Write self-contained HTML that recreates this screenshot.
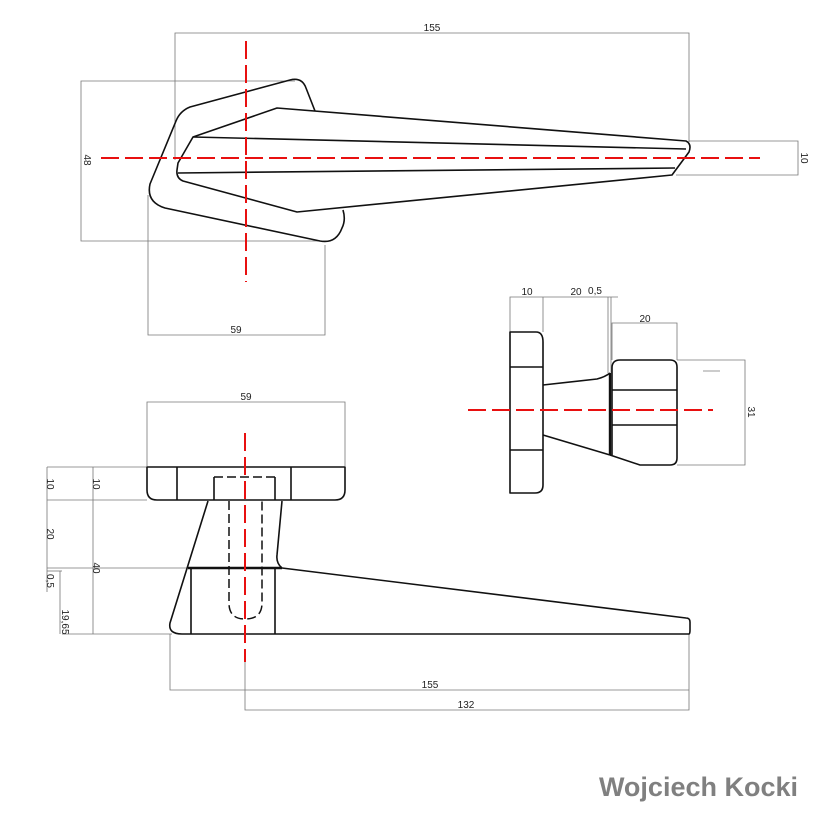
<!DOCTYPE html>
<html><head><meta charset="utf-8"><style>
html,body{margin:0;padding:0;background:#fff;}
svg{display:block;}
text{font-family:"Liberation Sans",Arial,sans-serif;font-size:10px;fill:#222;}
</style></head><body>
<svg width="818" height="818" viewBox="0 0 818 818" xmlns="http://www.w3.org/2000/svg">
<g fill="none" stroke="#777" stroke-width="0.8">
<polyline points="175,160 175,33 689,33 689,142"/>
<polyline points="295,81 81,81 81,241 326,241"/>
<polyline points="148,195 148,335 325,335 325,245"/>
<polyline points="689,141 798,141 798,175 676,175"/>
<polyline points="147,466 147,402 345,402 345,466"/>
<line x1="47" y1="467" x2="147" y2="467"/>
<line x1="47" y1="500" x2="147" y2="500"/>
<line x1="47" y1="568" x2="188" y2="568"/>
<line x1="47" y1="571" x2="62" y2="571"/>
<line x1="62" y1="634" x2="172" y2="634"/>
<line x1="47" y1="467" x2="47" y2="592"/>
<line x1="93" y1="467" x2="93" y2="634"/>
<line x1="60" y1="571" x2="60" y2="634"/>
<polyline points="170,634 170,690 689,690"/>
<polyline points="245,662 245,710 689,710 689,634"/>
<polyline points="510,332 510,297 618,297"/>
<line x1="543" y1="297" x2="543" y2="332"/>
<line x1="608" y1="297" x2="608" y2="373"/>
<line x1="611" y1="297" x2="611" y2="373"/>
<polyline points="612,360 612,323 677,323 677,360"/>
<polyline points="677,360 745,360 745,465 677,465"/>
<line x1="703" y1="371" x2="720" y2="371"/>
</g>
<g fill="#222">
<text x="432" y="31" text-anchor="middle">155</text>
<text transform="translate(84,160) rotate(90)" text-anchor="middle">48</text>
<text x="236" y="333" text-anchor="middle">59</text>
<text transform="translate(801,158) rotate(90)" text-anchor="middle">10</text>
<text x="246" y="400" text-anchor="middle">59</text>
<text transform="translate(47,484) rotate(90)" text-anchor="middle">10</text>
<text transform="translate(93,484) rotate(90)" text-anchor="middle">10</text>
<text transform="translate(47,534) rotate(90)" text-anchor="middle">20</text>
<text transform="translate(93,568) rotate(90)" text-anchor="middle">40</text>
<text transform="translate(47,581) rotate(90)" text-anchor="middle">0,5</text>
<text transform="translate(62,622) rotate(90)" text-anchor="middle">19,65</text>
<text x="430" y="688" text-anchor="middle">155</text>
<text x="466" y="708" text-anchor="middle">132</text>
<text x="527" y="295" text-anchor="middle">10</text>
<text x="576" y="295" text-anchor="middle">20</text>
<text x="595" y="294" text-anchor="middle">0,5</text>
<text x="645" y="322" text-anchor="middle">20</text>
<text transform="translate(748,412) rotate(90)" text-anchor="middle">31</text>
</g>
<g fill="none" stroke="#111" stroke-width="1.6" stroke-linejoin="round">
<path d="M315,111 L306,88 Q302,77 290,80 L190,107 Q180,111 176,121 L150,184 Q146,202 165,208 L320,241 Q336,244 342,228 Q346,220 343,210"/>
<path d="M193,137 L277,108 L686,141 Q692,144 689,152 L672,175 L297,212 L183,181 Q176,178 177,170 L178,163 Z"/>
<line x1="193" y1="137" x2="686" y2="149"/>
<line x1="178" y1="173" x2="675" y2="168"/>
<path d="M147,467 L345,467 L345,490 Q345,500 335,500 L157,500 Q147,500 147,490 Z"/>
<line x1="177" y1="467" x2="177" y2="500"/>
<line x1="291" y1="467" x2="291" y2="500"/>
<line x1="214" y1="477" x2="214" y2="500"/>
<line x1="275" y1="477" x2="275" y2="500"/>
<path d="M208,501 L170,623 Q168,634 182,634 L689,634 Q690,634 690,630 L690,622 Q690,618 686,618 L282,568 Q276,563 277,555 L282,501"/>
<line x1="188" y1="568" x2="282" y2="568" stroke-width="2.6"/>
<line x1="191" y1="568" x2="191" y2="634"/>
<line x1="275" y1="568" x2="275" y2="634"/>
<path d="M510,332 L536,332 Q543,332 543,342 L543,485 Q543,493 535,493 L510,493 Z"/>
<line x1="510" y1="367" x2="543" y2="367"/>
<line x1="510" y1="450" x2="543" y2="450"/>
<path d="M543,385 L597,379 Q605,377 610,373"/>
<line x1="543" y1="435" x2="610" y2="455"/>
<line x1="610" y1="373" x2="610" y2="455" stroke-width="2.4"/>
<path d="M610,455 L640,465 L670,465 Q677,465 677,458 L677,367 Q677,360 670,360 L620,360 Q612,360 612,368 L612,455"/>
<line x1="612" y1="390" x2="677" y2="390"/>
<line x1="612" y1="425" x2="677" y2="425"/>
</g>
<g fill="none" stroke="#111" stroke-width="1.5" stroke-dasharray="9 4">
<polyline points="214,477 275,477"/>
<path d="M229,501 L229,603 Q229,619 245,619 Q262,619 262,603 L262,501"/>
</g>
<g stroke="#e81010" stroke-width="2" fill="none" stroke-dasharray="18 6">
<line x1="246" y1="41" x2="246" y2="282"/>
<line x1="101" y1="158" x2="760" y2="158"/>
<line x1="245" y1="433" x2="245" y2="662"/>
<line x1="468" y1="410" x2="713" y2="410"/>
</g>
<text x="798" y="796" text-anchor="end" style="font-size:27px;font-weight:bold;fill:#808080;">Wojciech Kocki</text>
</svg>
</body></html>
